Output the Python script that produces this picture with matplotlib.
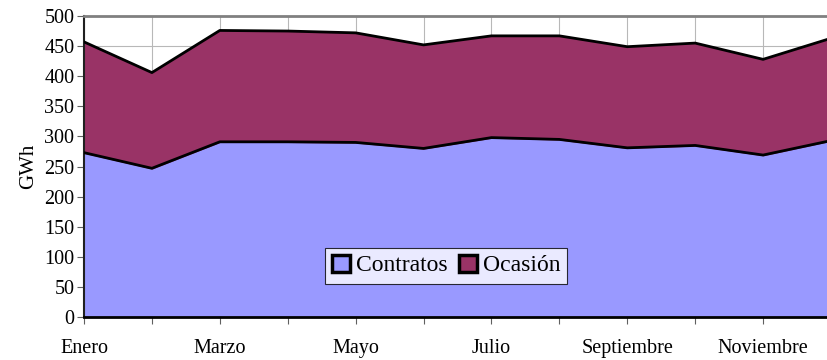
import matplotlib.pyplot as plt
from matplotlib.patches import Patch

plt.rcParams['font.family'] = ['Liberation Serif', 'DejaVu Serif']

meses = ['Enero', 'Febrero', 'Marzo', 'Abril', 'Mayo', 'Junio', 'Julio',
         'Agosto', 'Septiembre', 'Octubre', 'Noviembre', 'Diciembre']
contratos = [273, 247, 291, 291, 290, 280, 298, 295, 281, 285, 269, 293]
ocasion = [184, 159, 185, 184, 182, 172, 169, 172, 168, 170, 159, 170]

c_contratos = '#9999FF'
c_ocasion = '#993366'

fig = plt.figure(figsize=(8.27, 3.6), dpi=100)
ax = fig.add_axes([84 / 827, 43 / 360, 747 / 827, 301 / 360])

x = list(range(len(meses)))
total = [a + b for a, b in zip(contratos, ocasion)]

ax.fill_between(x, 0, contratos, color=c_contratos, zorder=2)
ax.fill_between(x, contratos, total, color=c_ocasion, zorder=2)
ax.plot(x, contratos, color='black', lw=2, zorder=3)
ax.plot(x, total, color='black', lw=2, zorder=3)

ax.set_xlim(0, len(meses) - 1)
ax.set_ylim(0, 500)
ax.set_yticks(range(0, 501, 50))
ax.set_xticks(x)
ax.set_xticklabels([m if i % 2 == 0 else '' for i, m in enumerate(meses)])
ax.grid(True, color='#b8b8b8', lw=0.8, zorder=1)
ax.set_axisbelow(True)

ax.tick_params(axis='both', labelsize=14.5, direction='out', length=5, color='#606060')
ax.tick_params(axis='y', pad=2)
ax.tick_params(axis='x', pad=10.5)
ax.set_ylabel('GWh', fontsize=15, labelpad=4)

for s in ['top', 'right']:
    ax.spines[s].set_color('#808080')
    ax.spines[s].set_linewidth(2)
ax.spines['left'].set_color('#202020')
ax.spines['left'].set_linewidth(1.5)
ax.spines['bottom'].set_color('black')
ax.spines['bottom'].set_linewidth(2)
ax.spines['bottom'].set_zorder(4)

handles = [Patch(facecolor=c_contratos, edgecolor='black', lw=2.5, label='Contratos'),
           Patch(facecolor=c_ocasion, edgecolor='black', lw=2.5, label='Ocasión')]
leg = ax.legend(handles=handles, loc='center', bbox_to_anchor=(0.485, 0.171),
                ncol=2, fontsize=17, frameon=True, fancybox=False,
                handlelength=0.75, handleheight=0.75, handletextpad=0.25,
                columnspacing=0.5, borderpad=0.3, borderaxespad=0)
leg.get_frame().set_edgecolor('black')
leg.get_frame().set_linewidth(0.8)
leg.set_zorder(5)

fig.savefig('out.png', dpi=100)
